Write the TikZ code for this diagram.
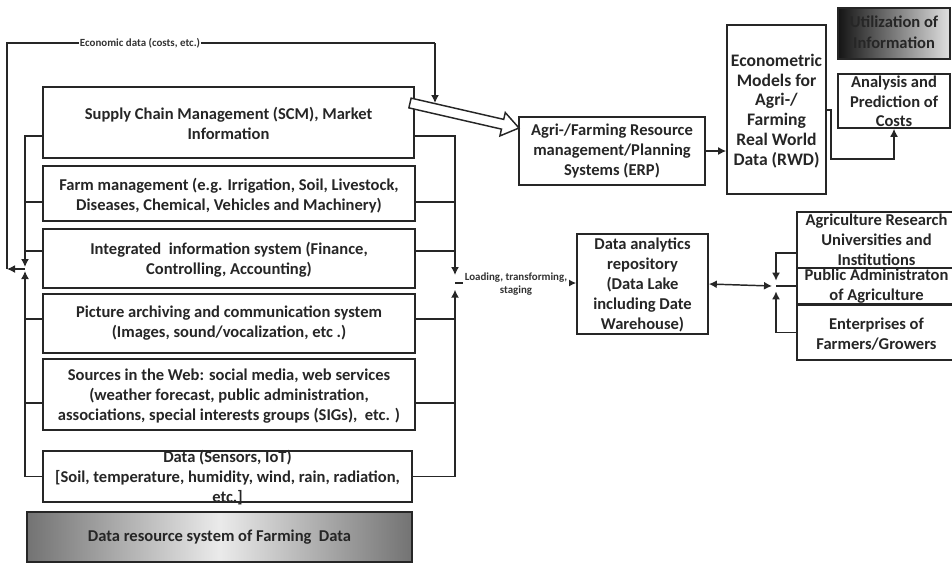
\documentclass[tikz,border=0pt]{standalone}
\usepackage{fontspec}
\setmainfont{Carlito}
\usetikzlibrary{arrows.meta,calc}
\begin{document}
\begin{tikzpicture}[x=0.75pt,y=-0.75pt,
  box/.style={draw=black!85, line width=1.2pt, fill=white, inner sep=0pt, rectangle},
  txt/.style={align=center, font=\fontsize{12.4}{15}\selectfont\bfseries, text=black!85, inner sep=0pt},
  ln/.style={draw=black!85, line width=1.1pt},
  arr/.style={ln, -{Latex[length=6pt,width=6pt]}},
  darr/.style={ln, {Latex[length=6pt,width=6pt]}-{Latex[length=6pt,width=6pt]}},
  small/.style={font=\fontsize{8.2}{10}\selectfont\bfseries, text=black!80, inner sep=1pt, align=center},
]
\useasboundingbox (0,0) rectangle (952,562);

% ---------- left column boxes ----------
\node[box, minimum width=278.25pt, minimum height=53.25pt] (scm) at (228.5,122.5) {};
\node[txt] (scmT) at (228.5,123.5) {Supply Chain Management (SCM), Market\\Information};

\node[box, minimum width=279pt, minimum height=41.25pt] (farm) at (229,193.5) {};
\node[txt] (farmT) at (229,195.5) {Farm management (e.g. Irrigation, Soil, Livestock,\\Diseases, Chemical, Vehicles and Machinery)};

\node[box, minimum width=279pt, minimum height=44.25pt] (integ) at (229,258.5) {};
\node[txt] (integT) at (229,259.5) {Integrated\ \ information system (Finance,\\Controlling, Accounting)};

\node[box, minimum width=279pt, minimum height=44.25pt] (pacs) at (229,323.5) {};
\node[txt] (pacsT) at (229,323.5) {Picture archiving and communication system\\(Images, sound/vocalization, etc .)};

\node[box, minimum width=279pt, minimum height=53.25pt] (web) at (229,394.5) {};
\node[txt] (webT) at (229,396) {Sources in the Web: social media, web services\\(weather forecast, public administration,\\associations, special interests groups (SIGs),\ \ etc. )};

\node[box, minimum width=276.75pt, minimum height=38.25pt] (data) at (227.5,476.5) {};
\node[txt] (dataT) at (227.5,477.5) {Data (Sensors, IoT)\\{}[Soil, temperature, humidity, wind, rain, radiation,\\etc.]};

\node[draw=black!85, line width=1.2pt, inner sep=0pt, left color=black!55, right color=black!55, middle color=black!8,
      minimum width=288.75pt, minimum height=37.5pt] (drs) at (219.5,537) {};
\node[txt] (drsT) at (219.5,537) {Data resource system of Farming\ \ Data};

% ---------- top right ----------
\node[box, minimum width=139.5pt, minimum height=51pt] (erp) at (612,151) {};
\node[txt] (erpT) at (612,151) {Agri-/Farming Resource\\management/Planning\\Systems (ERP)};

\node[box, minimum width=74.25pt, minimum height=126.75pt] (econo) at (776.5,109.5) {};
\node[txt, font=\fontsize{13.2}{14.8}\selectfont\bfseries] (econoT) at (776.5,111) {Econometric\\Models for\\Agri-/\\Farming\\Real World\\Data (RWD)};

\node[box, minimum width=84pt, minimum height=40.5pt] (anal) at (894,101) {};
\node[txt, font=\fontsize{12.4}{14.6}\selectfont\bfseries] (analT) at (894,101.5) {Analysis and\\Prediction of\\Costs};

\node[draw=black!85, line width=1.2pt, inner sep=0pt, left color=black!92, middle color=black!50, right color=black!12,
      minimum width=84pt, minimum height=38.25pt] (util) at (894,33.5) {};
\node[txt, text=black!85, font=\fontsize{12.4}{16}\selectfont\bfseries] (utilT) at (894,32.5) {Utilization of\\Information};

% ---------- middle right ----------
\node[box, minimum width=98.25pt, minimum height=75pt] (repo) at (642.5,284) {};
\node[txt] (repoT) at (642.5,285) {Data analytics\\repository\\(Data Lake\\including Date\\Warehouse)};

\node[box, minimum width=119.25pt, minimum height=42pt] (agri) at (876.5,240) {};
\node[txt] (agriT) at (876.5,240) {Agriculture Research\\Universities and\\Institutions};

\node[box, minimum width=119.25pt, minimum height=27pt] (pub) at (876.5,286) {};
\node[txt] (pubT) at (876.5,286.5) {Public Administraton\\of Agriculture};

\node[box, minimum width=119.25pt, minimum height=41.25pt] (ent) at (876.5,332.5) {};
\node[txt] (entT) at (876.5,334) {Enterprises of\\Farmers/Growers};

% ---------- fat hollow arrow SCM -> ERP ----------
\coordinate (fatS) at (410,103);
\begin{scope}[shift={(fatS)}, rotate=-12.92]
  \draw[ln, fill=white] (0,-5) -- (95,-5) -- (95,-12) -- (111.8,0) -- (95,12) -- (95,5) -- (0,5) -- cycle;
\end{scope}

% ---------- left bus ----------
\coordinate (lj) at (25,269);
\coordinate (outer) at (7,269);
\coordinate (econTop) at (435,43);
\draw[arr] (scm.west |- 0,136) -| ([yshift=1.5pt]lj);
\draw[arr] (data.west) -| ([yshift=-1.5pt]lj);
\draw[ln] (farm.west |- 0,202) -- (25,202);
\draw[ln] (integ.west |- 0,251) -- (25,251);
\draw[ln] (pacs.west |- 0,319) -- (25,319);
\draw[ln] (web.west |- 0,403) -- (25,403);
\draw[arr] (lj) -- (outer);
\draw[ln] (outer) -- (7,43) -- (econTop);
\draw[arr] (econTop) -- (435,103);
\node[small, fill=white] (econL) at (140,43) {Economic data (costs, etc.)};

% ---------- right bus ----------
\coordinate (rj) at (455,283);
\draw[arr] (scm.east |- 0,136) -| ([yshift=6pt]rj);
\draw[arr] (data.east) -| ([yshift=-5pt]rj);
\draw[ln] (farm.east |- 0,202) -- (455,202);
\draw[ln] (integ.east |- 0,251) -- (455,251);
\draw[ln] (pacs.east |- 0,319) -- (455,319);
\draw[ln] (web.east |- 0,403) -- (455,403);
\draw[arr] (rj) -- (repo.west |- rj);
\node[small, fill=white] (loadL) at (516,284) {Loading, transforming,\\staging};

% ---------- top right connectors ----------
\draw[arr] (erp.east) -- (econo.west |- erp.east);
\draw[arr] (econo.east |- 0,110) -- (831,110) -- (831,159) -| (anal.south);

% ---------- repository <-> stakeholders ----------
\coordinate (sj) at (776,286);
\draw[darr] (repo.east) -- ([xshift=-3pt]sj);
\draw[arr] (agri.west |- 0,253) -| ([yshift=4pt]sj);
\draw[arr] (ent.west) -| ([yshift=-4pt]sj);
\draw[ln] (sj) -- (pub.west);
\end{tikzpicture}
\end{document}
